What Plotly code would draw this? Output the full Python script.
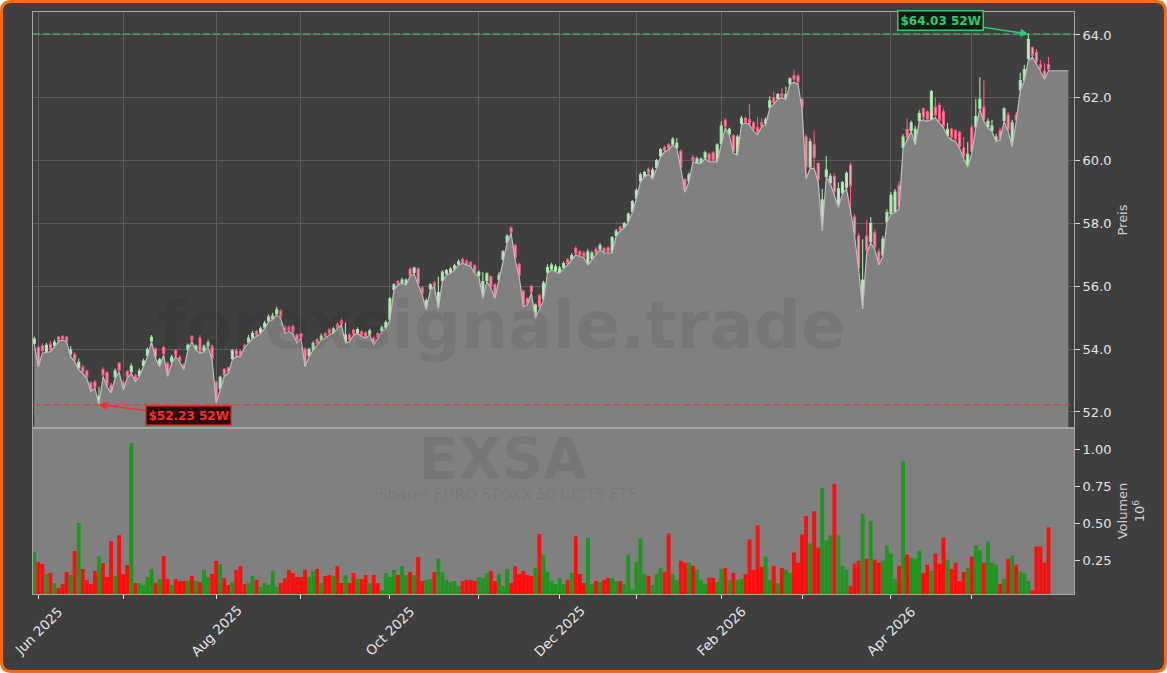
import pandas as pd
import plotly.graph_objects as go

# ---------------- data ----------------
trading_holidays = ["2025-10-03", "2025-12-24", "2025-12-25", "2025-12-26", "2025-12-31",
                    "2026-01-01", "2026-04-03", "2026-04-06", "2026-05-01"]
date_start, date_end = "2025-05-30", "2026-05-29"

opens = [
    54.18, 54.05, 54.10, 53.93, 54.15, 54.12, 54.38, 54.40, 54.38, 53.85,
    53.82, 53.40, 53.42, 53.30, 52.92, 52.95, 52.35, 53.35, 53.25, 52.85,
    53.12, 53.55, 52.95, 53.28, 53.28, 53.15, 53.16, 53.48, 53.80, 54.26,
    54.00, 53.50, 54.05, 53.55, 53.60, 53.95, 53.75, 53.50, 54.00, 54.40,
    54.00, 54.35, 53.96, 54.10, 54.10, 52.95, 52.75, 53.35, 53.40, 53.70,
    53.95, 53.92, 54.12, 54.22, 54.38, 54.55, 54.53, 54.70, 54.90, 54.95,
    55.12, 55.20, 54.68, 54.70, 54.72, 54.45, 54.48, 54.00, 53.80, 54.00,
    54.30, 54.32, 54.50, 54.62, 54.53, 54.80, 54.90, 54.22, 54.45, 54.60,
    54.52, 54.55, 54.52, 54.48, 54.35, 54.50, 54.58, 54.70, 54.95, 55.90,
    56.15, 56.12, 56.08, 56.55, 56.44, 56.55, 55.95, 55.30, 55.92, 56.10,
    55.35, 56.18, 56.40, 56.44, 56.55, 56.70, 56.85, 56.80, 56.75, 56.65,
    56.34, 55.70, 56.18, 56.30, 56.05, 56.22, 56.86, 57.40, 57.85, 57.30,
    56.70, 55.85, 55.60, 56.00, 55.02, 55.70, 55.60, 56.45, 56.55, 56.50,
    56.45, 56.60, 56.85, 56.86, 57.20, 57.10, 57.05, 56.72, 56.88, 57.18,
    57.20, 57.20, 57.22, 57.10, 57.62, 57.88, 57.88, 58.06, 58.38, 58.80,
    59.35, 59.50, 59.72, 59.45, 59.78, 60.15, 60.42, 60.50, 60.52, 60.42,
    60.30, 59.40, 59.35, 60.10, 59.94, 59.94, 60.10, 60.20, 60.25, 60.00,
    60.55, 61.28, 60.85, 60.80, 60.22, 61.18, 61.35, 61.30, 61.20, 61.05,
    61.20, 61.18, 61.70, 62.00, 61.98, 62.12, 61.98, 62.45, 62.70, 62.68,
    61.95, 60.75, 59.80, 60.50, 59.90, 57.80, 59.50, 59.30, 59.50, 58.55,
    58.98, 59.15, 59.85, 58.20, 57.60, 55.35, 57.60, 57.42, 57.70, 57.10,
    57.00, 58.05, 58.32, 58.38, 59.20, 60.42, 61.00, 60.96, 60.55, 61.28,
    61.65, 61.55, 61.32, 61.70, 61.75, 61.55, 60.80, 61.00, 60.95, 60.90,
    60.40, 59.85, 61.05, 61.08, 61.65, 61.70, 61.08, 60.95, 60.64, 60.95,
    61.28, 61.45, 60.48, 61.45, 62.25, 62.56, 63.25, 63.60, 63.45, 63.05,
    62.85, 63.05,
]
highs = [
    54.40, 54.12, 54.18, 54.20, 54.25, 54.30, 54.42, 54.45, 54.41, 54.10,
    53.90, 53.70, 53.50, 53.35, 52.98, 53.02, 52.80, 53.42, 53.30, 52.92,
    53.38, 53.60, 53.02, 53.33, 53.55, 53.22, 53.38, 53.70, 54.05, 54.45,
    54.05, 53.72, 54.10, 53.60, 53.82, 54.00, 53.80, 53.55, 54.18, 54.45,
    54.15, 54.45, 54.15, 54.30, 54.15, 53.00, 53.15, 53.40, 53.45, 54.00,
    54.02, 53.98, 54.18, 54.45, 54.58, 54.62, 54.72, 54.90, 55.10, 55.15,
    55.35, 55.28, 54.75, 54.75, 54.78, 54.50, 54.52, 54.05, 54.05, 54.25,
    54.35, 54.50, 54.55, 54.68, 54.72, 54.85, 54.98, 54.85, 54.50, 54.65,
    54.70, 54.60, 54.58, 54.65, 54.40, 54.55, 54.75, 54.92, 55.65, 56.10,
    56.20, 56.28, 56.25, 56.60, 56.62, 56.60, 56.00, 55.62, 56.10, 56.18,
    56.30, 56.50, 56.55, 56.62, 56.72, 56.85, 56.92, 56.86, 56.80, 56.70,
    56.50, 56.45, 56.45, 56.35, 56.10, 56.45, 57.15, 57.66, 57.90, 57.35,
    56.75, 55.90, 55.65, 56.05, 55.45, 55.75, 56.18, 56.70, 56.75, 56.70,
    56.65, 56.80, 56.90, 57.05, 57.28, 57.15, 57.12, 57.18, 57.12, 57.25,
    57.38, 57.25, 57.28, 57.60, 57.82, 57.92, 58.05, 58.35, 58.75, 59.12,
    59.62, 59.68, 59.78, 59.78, 60.05, 60.40, 60.48, 60.55, 60.75, 60.72,
    60.35, 59.45, 59.62, 60.18, 60.12, 60.10, 60.32, 60.25, 60.30, 60.55,
    61.25, 61.35, 61.05, 60.85, 60.82, 61.42, 61.40, 61.80, 61.25, 61.40,
    61.35, 61.38, 62.05, 62.20, 62.15, 62.30, 62.35, 62.65, 62.90, 62.75,
    62.00, 60.85, 60.70, 60.95, 59.95, 59.10, 60.15, 59.60, 59.60, 59.30,
    59.35, 59.65, 59.95, 58.30, 57.70, 57.50, 58.10, 58.20, 57.80, 57.20,
    57.60, 58.45, 59.00, 59.10, 59.35, 60.85, 61.35, 61.28, 61.10, 61.60,
    61.70, 61.60, 62.25, 62.00, 61.85, 61.65, 61.20, 61.05, 61.00, 60.95,
    60.75, 60.60, 61.15, 61.95, 62.65, 62.55, 61.35, 61.30, 60.85, 61.05,
    61.70, 61.55, 61.30, 61.55, 62.80, 63.05, 64.03, 63.65, 63.55, 63.20,
    63.10, 63.30,
]
lows = [
    54.13, 53.44, 53.87, 53.89, 53.92, 54.08, 54.24, 54.29, 54.24, 53.76,
    53.60, 53.34, 53.23, 53.07, 52.65, 52.75, 52.23, 53.13, 52.81, 52.60,
    53.07, 53.28, 52.70, 53.07, 53.23, 52.97, 53.13, 53.44, 53.76, 54.24,
    53.71, 53.44, 53.81, 53.13, 53.55, 53.76, 53.60, 53.34, 53.97, 54.24,
    53.97, 53.87, 53.92, 54.08, 53.66, 52.28, 52.70, 53.13, 53.23, 53.66,
    53.76, 53.76, 54.03, 54.19, 54.35, 54.40, 54.50, 54.66, 54.87, 54.93,
    55.09, 54.98, 54.50, 54.56, 54.50, 54.19, 54.35, 53.44, 53.76, 53.97,
    54.13, 54.29, 54.35, 54.45, 54.50, 54.66, 54.77, 54.19, 54.24, 54.45,
    54.50, 54.40, 54.35, 54.45, 54.13, 54.35, 54.56, 54.66, 54.93, 55.88,
    56.04, 56.10, 56.04, 56.31, 56.41, 56.04, 55.72, 55.25, 55.88, 55.99,
    55.30, 56.15, 56.36, 56.41, 56.52, 56.68, 56.73, 56.68, 56.63, 56.41,
    56.31, 55.62, 56.15, 55.94, 55.62, 56.20, 56.84, 57.37, 57.69, 56.84,
    56.31, 55.35, 55.41, 55.78, 54.98, 55.28, 55.55, 56.41, 56.52, 56.47,
    56.41, 56.57, 56.68, 56.84, 57.00, 56.95, 56.90, 56.68, 56.84, 57.00,
    57.17, 57.06, 57.06, 57.06, 57.60, 57.76, 57.86, 58.03, 58.35, 58.78,
    59.32, 59.48, 59.58, 59.42, 59.75, 60.12, 60.28, 60.34, 60.50, 60.39,
    59.75, 58.99, 59.32, 59.96, 59.91, 59.91, 60.07, 59.96, 59.96, 59.96,
    60.50, 61.04, 60.82, 60.23, 60.18, 61.14, 61.20, 61.14, 60.93, 60.82,
    61.09, 61.14, 61.68, 61.79, 61.95, 62.00, 61.95, 62.43, 62.49, 62.43,
    61.63, 59.42, 59.75, 59.75, 59.32, 57.76, 59.48, 59.26, 58.89, 58.51,
    58.94, 59.10, 58.40, 57.60, 56.52, 55.28, 57.06, 57.38, 57.17, 56.68,
    56.95, 58.03, 58.29, 58.35, 58.46, 60.39, 60.66, 60.93, 60.50, 61.25,
    61.30, 61.25, 61.30, 61.36, 61.20, 61.04, 60.77, 60.66, 60.61, 60.39,
    60.07, 59.80, 60.23, 61.04, 61.63, 61.25, 61.04, 60.93, 60.61, 60.66,
    61.25, 60.93, 60.44, 61.25, 62.22, 62.54, 63.19, 63.29, 63.08, 62.86,
    62.60, 62.86,
]
closes = [
    54.32, 53.52, 53.95, 54.12, 54.00, 54.22, 54.28, 54.33, 54.27, 53.98,
    53.65, 53.58, 53.28, 53.12, 52.70, 52.80, 52.50, 53.18, 52.88, 52.66,
    53.30, 53.33, 52.76, 53.12, 53.45, 53.02, 53.30, 53.62, 53.98, 54.38,
    53.76, 53.66, 53.86, 53.18, 53.75, 53.80, 53.64, 53.38, 54.12, 54.28,
    54.10, 53.92, 54.10, 54.20, 53.70, 52.35, 53.10, 53.18, 53.28, 53.95,
    53.80, 53.80, 54.06, 54.35, 54.50, 54.45, 54.65, 54.82, 55.02, 55.05,
    55.25, 55.05, 54.55, 54.60, 54.55, 54.24, 54.38, 53.50, 53.98, 54.18,
    54.18, 54.42, 54.40, 54.50, 54.65, 54.70, 54.82, 54.45, 54.30, 54.50,
    54.62, 54.45, 54.40, 54.58, 54.18, 54.40, 54.68, 54.85, 55.60, 56.05,
    56.08, 56.20, 56.20, 56.35, 56.58, 56.10, 55.78, 55.55, 56.05, 56.03,
    55.80, 56.45, 56.50, 56.55, 56.65, 56.78, 56.76, 56.72, 56.67, 56.45,
    56.45, 56.15, 56.40, 56.00, 55.70, 56.35, 57.10, 57.60, 57.72, 56.90,
    56.35, 55.40, 55.45, 55.82, 55.40, 55.35, 56.10, 56.60, 56.68, 56.62,
    56.58, 56.72, 56.72, 56.98, 57.05, 57.00, 56.95, 57.10, 57.05, 57.05,
    57.30, 57.10, 57.10, 57.55, 57.75, 57.80, 58.00, 58.30, 58.70, 59.05,
    59.55, 59.62, 59.62, 59.70, 60.00, 60.35, 60.32, 60.38, 60.68, 60.55,
    59.80, 59.05, 59.55, 60.00, 60.05, 60.05, 60.25, 60.00, 60.02, 60.50,
    61.10, 61.10, 61.00, 60.30, 60.75, 61.35, 61.25, 61.18, 61.00, 60.88,
    61.12, 61.30, 61.90, 61.85, 62.10, 62.05, 62.10, 62.60, 62.60, 62.50,
    61.70, 59.80, 60.60, 60.10, 59.40, 58.75, 59.70, 59.50, 59.00, 59.10,
    59.30, 59.60, 59.20, 57.65, 56.60, 56.20, 57.15, 58.00, 57.25, 56.75,
    57.50, 58.35, 58.90, 59.00, 58.55, 60.75, 60.75, 61.20, 61.00, 61.50,
    61.38, 61.32, 62.20, 61.45, 61.28, 61.10, 61.00, 60.75, 60.70, 60.45,
    60.15, 60.20, 60.30, 61.40, 61.95, 61.32, 61.25, 61.10, 60.75, 60.70,
    61.65, 61.00, 61.20, 61.30, 62.55, 62.90, 63.85, 63.35, 63.15, 62.95,
    62.68, 62.92,
]
volume_mio = [
    0.304, 0.237, 0.223, 0.156, 0.162, 0.095, 0.061, 0.088, 0.169, 0.149,
    0.311, 0.500, 0.189, 0.115, 0.088, 0.176, 0.277, 0.230, 0.135, 0.378,
    0.142, 0.418, 0.156, 0.216, 1.040, 0.095, 0.095, 0.081, 0.135, 0.189,
    0.095, 0.122, 0.277, 0.122, 0.081, 0.122, 0.108, 0.108, 0.108, 0.142,
    0.108, 0.101, 0.182, 0.135, 0.156, 0.243, 0.223, 0.128, 0.081, 0.101,
    0.182, 0.209, 0.088, 0.095, 0.142, 0.115, 0.068, 0.095, 0.081, 0.176,
    0.068, 0.095, 0.128, 0.182, 0.162, 0.135, 0.135, 0.182, 0.135, 0.176,
    0.189, 0.095, 0.142, 0.149, 0.142, 0.209, 0.095, 0.149, 0.095, 0.162,
    0.122, 0.122, 0.149, 0.095, 0.149, 0.095, 0.047, 0.162, 0.135, 0.182,
    0.149, 0.209, 0.149, 0.169, 0.149, 0.270, 0.108, 0.115, 0.122, 0.169,
    0.263, 0.169, 0.115, 0.101, 0.108, 0.074, 0.108, 0.115, 0.115, 0.108,
    0.135, 0.128, 0.162, 0.176, 0.108, 0.156, 0.074, 0.189, 0.095, 0.209,
    0.156, 0.176, 0.149, 0.142, 0.196, 0.426, 0.284, 0.169, 0.108, 0.088,
    0.129, 0.088, 0.115, 0.163, 0.410, 0.156, 0.095, 0.400, 0.088, 0.108,
    0.102, 0.115, 0.129, 0.129, 0.108, 0.108, 0.088, 0.286, 0.054, 0.238,
    0.396, 0.156, 0.143, 0.081, 0.156, 0.197, 0.170, 0.430, 0.156, 0.115,
    0.245, 0.232, 0.232, 0.211, 0.184, 0.115, 0.088, 0.129, 0.129, 0.102,
    0.190, 0.197, 0.115, 0.163, 0.115, 0.122, 0.156, 0.389, 0.184, 0.485,
    0.204, 0.273, 0.115, 0.211, 0.095, 0.197, 0.184, 0.163, 0.300, 0.232,
    0.423, 0.546, 0.362, 0.580, 0.334, 0.738, 0.382, 0.416, 0.765, 0.416,
    0.211, 0.184, 0.074, 0.225, 0.245, 0.560, 0.259, 0.512, 0.252, 0.232,
    0.245, 0.348, 0.293, 0.122, 0.211, 0.916, 0.286, 0.266, 0.259, 0.314,
    0.163, 0.218, 0.177, 0.293, 0.225, 0.400, 0.252, 0.190, 0.232, 0.108,
    0.170, 0.197, 0.273, 0.348, 0.314, 0.232, 0.375, 0.232, 0.218, 0.088,
    0.122, 0.259, 0.280, 0.218, 0.170, 0.163, 0.108, 0.047, 0.341, 0.341,
    0.232, 0.471,
]
ticker = "EXSA"
fund_name = "iShares EURO STOXX 50 UCITS ETF"
watermark = "forexsignale.trade"

# ---------------- derived positions ----------------
dates = [d for d in pd.bdate_range(date_start, date_end)
         if d.strftime("%Y-%m-%d") not in trading_holidays]
n = len(closes)
dates = dates[:n]
idx = list(range(n))

month_idx = [i for i in range(1, n) if dates[i].month != dates[i - 1].month]
month_lbl = [(i, dates[i].strftime("%b %Y")) for k, i in enumerate(month_idx) if k % 2 == 0]

W, H = 1167, 673
ML, MR, MT, MB = 33, 93, 12, 79
PW, PH = W - ML - MR, H - MT - MB
VOL_TOP = 166 / PH


def pxx(p):
    return (p - ML) / PW


def pxy(p):
    return (H - MB - p) / PH


BG = "#3f3f3f"
GRID = "#5d5d5d"
FRAME = "#a6a6a6"
TXT = "#e4e4e4"
FONT = "DejaVu Sans"

x_range = [-0.32, n - 1 + 6.3]
area_x = idx + [n - 1 + 4.9]
area_y = lows + [lows[-1]]

fig = go.Figure()

fig.add_trace(go.Scatter(
    x=area_x, y=area_y, mode="lines", fill="tozeroy",
    fillcolor="#808080", line=dict(color="#bdbdbd", width=1.2),
    xaxis="x", yaxis="y", hoverinfo="skip", showlegend=False))

fig.add_trace(go.Candlestick(
    x=idx, open=opens, high=highs, low=lows, close=closes,
    increasing=dict(line=dict(color="#a4e8a4", width=1.1), fillcolor="#d2e6d2"),
    decreasing=dict(line=dict(color="#ff5a82", width=1.1), fillcolor="#f4b0c2"),
    whiskerwidth=0, xaxis="x", yaxis="y", showlegend=False))

vol_colors = ["#1f961f" if c >= o else "#ff0d0d" for o, c in zip(opens, closes)]
fig.add_trace(go.Bar(
    x=idx, y=volume_mio, marker=dict(color=vol_colors, line=dict(width=0)),
    width=0.96, xaxis="x2", yaxis="y2", showlegend=False))

hi_val = max(highs)
hi_i = highs.index(hi_val)
lo_val = min(lows)
lo_i = lows.index(lo_val)

# rounded frame
x0, y0, x1, y1, r = 1.5, 1.5, W - 1.5, H - 1.5, 10
path = (f"M {pxx(x0 + r)},{pxy(y0)} L {pxx(x1 - r)},{pxy(y0)} "
        f"Q {pxx(x1)},{pxy(y0)} {pxx(x1)},{pxy(y0 + r)} "
        f"L {pxx(x1)},{pxy(y1 - r)} Q {pxx(x1)},{pxy(y1)} {pxx(x1 - r)},{pxy(y1)} "
        f"L {pxx(x0 + r)},{pxy(y1)} Q {pxx(x0)},{pxy(y1)} {pxx(x0)},{pxy(y1 - r)} "
        f"L {pxx(x0)},{pxy(y0 + r)} Q {pxx(x0)},{pxy(y0)} {pxx(x0 + r)},{pxy(y0)} Z")

shapes = [
    dict(type="path", path=path, xref="paper", yref="paper", layer="below",
         fillcolor=BG, line=dict(color="#ff6a0d", width=3)),
    dict(type="rect", xref="paper", yref="paper", x0=0, x1=1, y0=0, y1=VOL_TOP,
         layer="below", fillcolor="#808080", line=dict(width=0)),
    dict(type="line", xref="x domain", yref="y", x0=0, x1=1, y0=hi_val, y1=hi_val,
         line=dict(color="rgba(46,204,113,0.7)", width=1.6, dash="7px,3px")),
    dict(type="line", xref="x domain", yref="y", x0=0, x1=1, y0=lo_val, y1=lo_val,
         line=dict(color="rgba(255,45,45,0.72)", width=1.6, dash="7px,3px")),
]

wm = "rgba(0,0,0,0.075)"
annotations = [
    dict(text=f"<b>{watermark}</b>", xref="paper", yref="paper", x=pxx(502), y=pxy(325),
         xanchor="center", yanchor="middle",
         showarrow=False, font=dict(family=FONT, size=66, color=wm)),
    dict(text=f"<b>{ticker}</b>", xref="paper", yref="paper", x=pxx(503), y=pxy(459),
         xanchor="center", yanchor="middle",
         showarrow=False, font=dict(family=FONT, size=57, color=wm)),
    dict(text=fund_name, xref="paper", yref="paper", x=pxx(505), y=pxy(495),
         xanchor="center", yanchor="middle",
         showarrow=False, font=dict(family=FONT, size=15, color=wm)),
    dict(text=f"<b>${hi_val:.2f} 52W</b>", xref="x", yref="y", x=hi_i, y=hi_val,
         ax=-88, ay=-13, showarrow=True, arrowhead=2, arrowsize=1, arrowwidth=1.6,
         arrowcolor="#2ecc71", font=dict(family=FONT, size=12, color="#2ecc71"),
         bgcolor="#0c1a11", bordercolor="#2ecc71", borderwidth=1.5, borderpad=2),
    dict(text=f"<b>${lo_val:.2f} 52W</b>", xref="x", yref="y", x=lo_i, y=lo_val,
         ax=90, ay=11, showarrow=True, arrowhead=2, arrowsize=1, arrowwidth=1.6,
         arrowcolor="#ff2a2a", font=dict(family=FONT, size=12, color="#ff2a2a"),
         bgcolor="#2a0d0d", bordercolor="#ff2a2a", borderwidth=1.5, borderpad=2),
]
# month labels, centred on their ticks and rotated like the reference
for i, lbl in month_lbl:
    annotations.append(dict(text=lbl, xref="x2", yref="paper", x=i, y=pxy(631),
                            xanchor="center", yanchor="middle", textangle=-45,
                            showarrow=False, font=dict(family=FONT, size=13.5, color=TXT)))

fig.update_layout(
    width=W, height=H, autosize=False,
    margin=dict(l=ML, r=MR, t=MT, b=MB, pad=0),
    paper_bgcolor="#ffffff", plot_bgcolor="rgba(0,0,0,0)",
    font=dict(family=FONT, color=TXT, size=13),
    showlegend=False, hovermode=False,
    shapes=shapes, annotations=annotations,
    xaxis=dict(domain=[0, 1], anchor="y", range=x_range, tickvals=month_idx,
               showticklabels=False, ticks="", showgrid=True, gridcolor=GRID, gridwidth=1,
               zeroline=False, showline=True, mirror=True, linecolor=FRAME, linewidth=1,
               rangeslider=dict(visible=False)),
    yaxis=dict(domain=[VOL_TOP, 1], anchor="x", side="right", range=[51.49, 64.73],
               tick0=0, dtick=2, tickformat=".1f", ticks="outside", ticklen=5,
               tickcolor="#d8d8d8", tickfont=dict(size=13, color=TXT),
               showgrid=True, gridcolor=GRID, gridwidth=1, zeroline=False,
               showline=True, mirror=True, linecolor=FRAME, linewidth=1,
               title=dict(text="Preis", font=dict(size=13, color="#d0d0d0"), standoff=7),
               automargin=False),
    xaxis2=dict(domain=[0, 1], anchor="y2", matches="x", range=x_range,
                tickvals=month_idx, showticklabels=False,
                ticks="outside", ticklen=4, tickcolor="#e8e8e8",
                showgrid=False, zeroline=False,
                showline=True, mirror=True, linecolor=FRAME, linewidth=1,
                automargin=False),
    yaxis2=dict(domain=[0, VOL_TOP], anchor="x2", side="right", range=[0.0203, 1.142],
                tickvals=[0.25, 0.5, 0.75, 1.0], tickformat=".2f", ticks="outside",
                ticklen=5, tickcolor="#d8d8d8", tickfont=dict(size=13, color=TXT),
                showgrid=False, zeroline=False, showline=True, mirror=True,
                linecolor=FRAME, linewidth=1,
                title=dict(text="Volumen<br>10<sup>6</sup>", font=dict(size=13, color="#d0d0d0"),
                           standoff=7),
                automargin=False),
)

fig.write_html("out.html")
